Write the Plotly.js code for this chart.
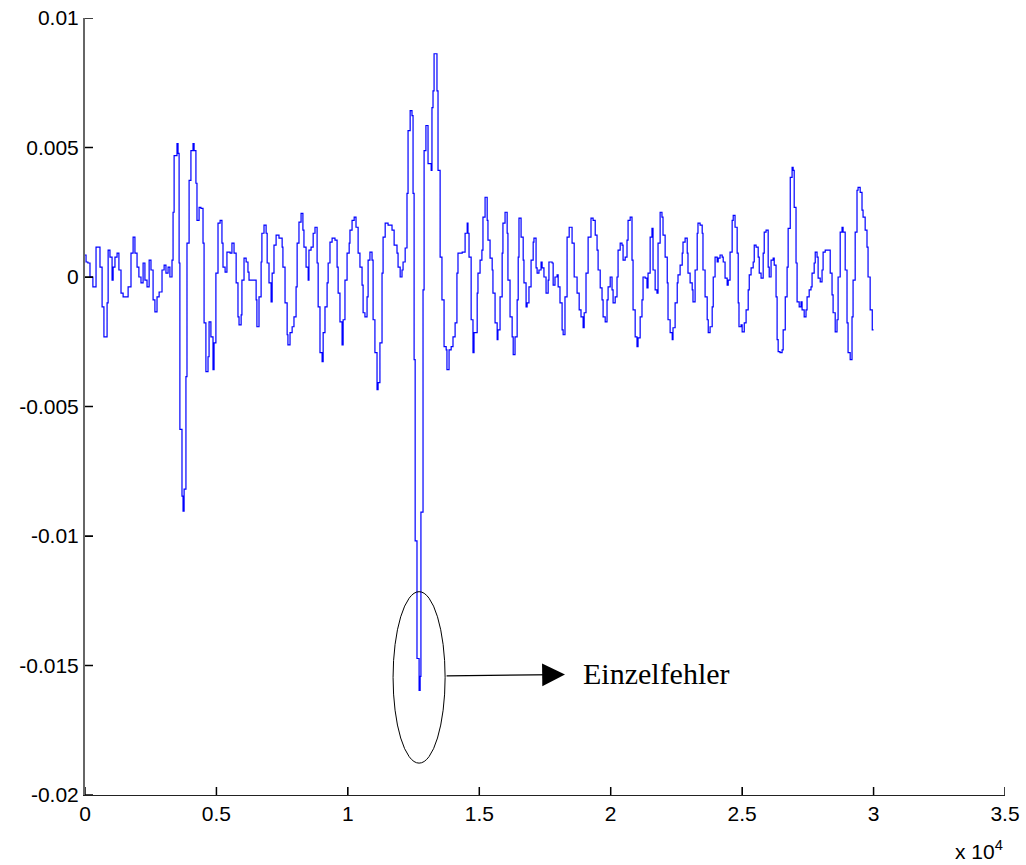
<!DOCTYPE html>
<html>
<head>
<meta charset="utf-8">
<script src="https://cdn.plot.ly/plotly-3.0.1.min.js"></script>
<style>html,body{margin:0;padding:0;background:#fff;}#plot{width:1026px;height:865px;}</style>
</head>
<body>
<div id="plot"></div>
<script>
// sample index (x) and signal value (y)
const sampleX = [0,40,110,190,300,420,570,650,720,840,880,950,1030,1070,1140,1220,1290,1370,1450,1640,1750,1830,1900,1980,2050,2130,2210,2280,2360,2440,2510,2590,2660,2740,2820,2930,3010,3080,3160,3230,3310,3350,3390,3500,3540,3580,3610,3690,3730,3770,3840,3880,3960,4030,4110,4150,4220,4260,4340,4410,4490,4530,4600,4680,4720,4790,4870,4910,4980,5060,5140,5210,5250,5330,5400,5520,5590,5670,5750,5820,5860,5940,5970,6050,6130,6200,6240,6510,6540,6620,6700,6730,6810,6890,6930,7000,7080,7120,7190,7270,7380,7500,7530,7610,7690,7720,7800,7880,7950,8030,8070,8140,8220,8290,8330,8410,8490,8520,8600,8680,8750,8830,8870,8940,9020,9060,9130,9210,9250,9320,9400,9510,9590,9630,9700,9780,9820,9890,9970,10050,10080,10160,10240,10310,10390,10460,10540,10580,10650,10730,10770,10840,10920,10960,11030,11110,11150,11220,11300,11340,11420,11530,11680,11760,11870,11910,11990,12060,12100,12180,12250,12290,12370,12440,12480,12520,12560,12630,12710,12750,12780,12860,12900,12970,13050,13170,13200,13240,13280,13390,13430,13510,13580,13660,13740,13770,13850,13930,14000,14080,14150,14190,14350,14460,14540,14570,14610,14690,14760,14800,14920,14950,15030,15100,15140,15220,15300,15330,15410,15490,15520,15600,15680,15710,15790,15870,15900,15980,16060,16090,16170,16250,16290,16360,16440,16480,16510,16590,16670,16700,16780,16820,16890,16970,17050,17080,17160,17200,17270,17350,17390,17460,17540,17620,17650,17770,17810,17880,17960,18000,18070,18150,18190,18260,18340,18420,18530,18610,18720,18800,18870,18950,18990,19060,19140,19250,19330,19410,19480,19520,19600,19670,19710,19790,19860,19900,19980,20050,20090,20170,20240,20280,20360,20430,20470,20550,20620,20660,20740,20810,20850,20930,21000,21040,21120,21190,21230,21310,21380,21420,21500,21570,21610,21690,21760,21800,21880,21950,21990,22070,22150,22180,22260,22340,22370,22450,22530,22560,22640,22720,22750,22830,22910,22940,23020,23100,23130,23210,23290,23320,23400,23480,23510,23590,23670,23710,23780,23860,23900,23970,24050,24090,24160,24240,24280,24350,24430,24470,24540,24620,24660,24730,24810,24850,24880,24960,25000,25080,25150,25230,25270,25340,25420,25460,25530,25610,25650,25720,25800,25840,25910,25990,26030,26100,26180,26220,26290,26330,26370,26440,26520,26560,26640,26710,26750,26830,26900,26940,26980,27050,27090,27170,27240,27280,27360,27430,27470,27550,27620,27660,27740,27780,27850,27890,27970,28040,28080,28160,28350,28420,28460,28540,28610,28650,28730,28800,28840,28920,28990,29030,29110,29180,29220,29300,29370,29410,29490,29560,29600,29680,29750,29790,29870,29950,30000];
const signal = [0.00085,0.00058,0.00054,0,-0.00038,0.00115,0.00038,-0.00115,-0.00231,-0.001,0.00104,0.00077,-0.00012,0.00038,0.00077,0.00092,0.00027,-0.00062,-0.00077,-0.00038,0.00092,0.00154,0.00092,0.00038,0,-0.00023,0.00054,-0.00012,-0.00038,0.00065,0.00027,-0.00088,-0.00135,-0.00077,-0.00058,0.00027,0.00046,0.00015,0.00038,0,0.00065,0.0025,0.00469,0.00515,0.00477,0.00054,-0.00588,-0.00846,-0.00904,-0.00819,-0.00385,0.00131,0.00373,0.00488,0.00515,0.00488,0.00362,0.00219,0.00269,0.00265,0.00131,-0.00177,-0.00365,-0.00308,-0.00173,-0.00231,-0.00358,-0.00254,0.00015,0.00208,0.00219,0.00131,0.00038,0.00019,0.00096,0.00092,0.00131,0.00092,-0.00023,-0.00154,-0.00185,-0.00146,-0.00012,0.00073,0.00058,0.00019,-0.00012,-0.00088,-0.00192,-0.00077,0.00058,0.00169,0.002,0.00169,0.00054,-0.00023,-0.00096,0.00015,0.00123,0.00162,0.0015,0.00115,0.00038,-0.001,-0.00223,-0.00262,-0.00215,-0.00192,-0.00154,-0.00038,0.00131,0.00212,0.00246,0.00181,0.00115,0.00038,-0.00012,0.00104,0.00115,0.00169,0.00192,0.00054,-0.00115,-0.00292,-0.00327,-0.00215,-0.00115,-0.00023,0.00054,0.00135,0.0015,0.00142,0.00038,-0.00062,-0.00173,-0.00262,-0.00165,-0.00012,0.00092,0.00131,0.00181,0.00219,0.00231,0.00192,0.00092,0.00038,-0.00031,-0.00138,-0.00154,-0.00077,0.00065,0.00096,0.00065,-0.00165,-0.00292,-0.00435,-0.00408,-0.00254,0.00015,0.00154,0.00208,0.002,0.00181,0.00123,0.00092,0.00038,0,0.00027,0.00058,0.00112,0.00323,0.00565,0.00642,0.00623,0.00323,-0.00319,-0.01019,-0.01473,-0.01596,-0.01542,-0.00908,-0.0005,0.00488,0.00585,0.00438,0.00412,0.00654,0.00719,0.00862,0.00719,0.00412,0.00077,-0.00088,-0.00269,-0.00281,-0.00358,-0.00281,-0.00269,-0.00231,-0.00177,0.00015,0.00092,0.00096,0.00169,0.00208,0.00169,0.00077,-0.00165,-0.00292,-0.00215,-0.00062,0.00015,0.00065,0.00104,0.00231,0.00308,0.00219,0.00142,0.00073,0.00027,-0.00062,-0.00177,-0.00242,-0.00204,-0.00077,0.00092,0.00208,0.0025,0.00169,-0.00012,-0.00154,-0.00231,-0.003,-0.00231,-0.00088,0.00077,0.00227,0.00154,0.00065,-0.00023,-0.00115,-0.001,-0.00038,0.00065,0.00135,0.0015,0.00035,0.00015,0.00027,0.00058,0.00035,0,-0.00062,-0.00012,0.00058,0.00054,-0.00031,0,0.00008,-0.00038,-0.001,-0.00204,-0.00223,-0.00077,0.00154,0.00192,0.00131,0,-0.00062,-0.00127,-0.00154,-0.00196,-0.00138,0.00015,0.00154,0.00227,0.00219,0.00162,0.00104,0.00027,-0.00042,-0.00088,-0.00154,-0.00173,-0.00088,-0.00038,0,-0.0005,-0.001,-0.00077,0,0.00104,0.00131,0.00123,0.00065,0.00077,0.00142,0.00219,0.00231,0.00065,-0.00127,-0.00231,-0.00269,-0.00235,-0.00154,-0.00088,0,-0.00004,-0.00042,0.00015,0.00154,0.00188,0.00027,-0.0005,-0.00062,0.00131,0.0025,0.00231,0.00162,0.00077,-0.00023,-0.00165,-0.00215,-0.00242,-0.00196,-0.001,-0.00023,0.00008,0.00046,0.00092,0.00135,0.0015,0.00092,0.00015,-0.00023,-0.0005,-0.00096,0.00027,0.00169,0.00208,0.002,0.00169,0.00027,-0.00077,-0.00165,-0.00215,-0.00192,-0.00115,0,0.00077,0.00058,0.00073,0.00085,0.00077,0.00058,-0.00004,-0.00031,-0.00012,0.00096,0.00219,0.00238,0.00192,0.00092,-0.001,-0.00192,-0.00185,-0.00212,-0.00177,-0.00127,-0.0005,0.00008,0.00035,0.00058,0.00123,0.00115,0.00077,0.00015,-0.00004,0.00092,0.00173,0.00181,0.00038,0,0.00065,0.00073,0.00046,-0.00077,-0.00242,-0.00288,-0.00292,-0.00281,-0.00204,-0.00077,0.00038,0.00188,0.00385,0.00423,0.00412,0.00269,0.00054,-0.00096,-0.00115,-0.00096,-0.00127,-0.00154,-0.00127,-0.00077,-0.0005,-0.00038,0.00015,0.00054,0.00096,0.00077,-0.00004,-0.00019,0.00027,0.00096,0.00104,0.00015,-0.00069,-0.00138,-0.00212,-0.00165,0,0.00173,0.00192,0.00173,0.00027,-0.00177,-0.00292,-0.00319,-0.00154,-0.00012,0.00173,0.00335,0.00346,0.00327,0.00258,0.00231,0.00181,0.00115,0,-0.00127,-0.00204,-0.00204];

const xTickVals = [0, 5000, 10000, 15000, 20000, 25000, 30000, 35000];
const xTickText = ['0', '0.5', '1', '1.5', '2', '2.5', '3', '3.5'];
const yTickVals = [-0.02, -0.015, -0.01, -0.005, 0, 0.005, 0.01];
const yTickText = ['-0.02', '-0.015', '-0.01', '-0.005', '0', '0.005', '0.01'];
const exponentLabel = 'x 10<sup>4</sup>';
const faultLabel = 'Einzelfehler';
// marked fault region (ellipse) and arrow, in data units
const faultBox = {x0: 11720, x1: 13700, y0: -0.01877, y1: -0.01215};
const arrowTail = {x: 13700, y: -0.0154};
const arrowHead = {x: 18260, y: -0.01535};
const labelPos = {x: 18880, y: -0.0153};

const X_RANGE = [0, 35000];
const Y_RANGE = [-0.02, 0.01];
const PLOT_W = 920, PLOT_H = 777;   // plot area size in px (from the margins)
const TICK_PX = 8;                  // inward tick length in px
const xTickLen = TICK_PX * (X_RANGE[1] - X_RANGE[0]) / PLOT_W;
const yTickLen = TICK_PX * (Y_RANGE[1] - Y_RANGE[0]) / PLOT_H;

const trace = {
  x: sampleX, y: signal, type: 'scatter', mode: 'lines',
  line: {color: '#0000ff', width: 1.2, shape: 'hv'},
  hoverinfo: 'skip'
};

// inward tick marks at the tick values, drawn through the axis scales
const tickX = [], tickY = [];
xTickVals.forEach(v => { tickX.push(v, v, null); tickY.push(Y_RANGE[0], Y_RANGE[0] + yTickLen, null); });
yTickVals.forEach(v => { tickX.push(X_RANGE[0], X_RANGE[0] + xTickLen, null); tickY.push(v, v, null); });
const tickTrace = {
  x: tickX, y: tickY, type: 'scatter', mode: 'lines',
  line: {color: '#000', width: 1.5}, connectgaps: false, hoverinfo: 'skip'
};

const tickFont = {family: 'Liberation Sans, Arial, sans-serif', size: 21, color: '#000'};

const layout = {
  width: 1026, height: 865,
  margin: {l: 85, r: 21, t: 18, b: 70, pad: 0},
  paper_bgcolor: '#fff', plot_bgcolor: '#fff',
  showlegend: false,
  xaxis: {
    range: X_RANGE, tickmode: 'array', tickvals: xTickVals, ticktext: xTickText,
    showgrid: false, zeroline: false, showline: true, linecolor: '#222', linewidth: 1,
    ticks: 'inside', ticklen: TICK_PX, tickcolor: '#000', tickfont: tickFont
  },
  yaxis: {
    range: Y_RANGE, tickmode: 'array', tickvals: yTickVals, ticktext: yTickText,
    showgrid: false, zeroline: false, showline: true, linecolor: '#666', linewidth: 2,
    ticks: 'inside', ticklen: TICK_PX, tickcolor: '#000', tickfont: tickFont
  },
  shapes: [{
    type: 'circle', xref: 'x', yref: 'y',
    x0: faultBox.x0, x1: faultBox.x1, y0: faultBox.y0, y1: faultBox.y1,
    line: {color: '#000', width: 1}
  }],
  annotations: [
    {
      x: arrowHead.x, y: arrowHead.y, ax: arrowTail.x, ay: arrowTail.y,
      xref: 'x', yref: 'y', axref: 'x', ayref: 'y',
      text: '', showarrow: true, arrowhead: 2, arrowsize: 3.8, arrowwidth: 1.2, arrowcolor: '#000'
    },
    {
      x: labelPos.x, y: labelPos.y, xref: 'x', yref: 'y', xanchor: 'left', yanchor: 'middle',
      text: faultLabel, showarrow: false,
      font: {family: 'Liberation Serif, Times New Roman, serif', size: 30, color: '#000'}
    },
    {
      x: 1.0, y: -0.071, xref: 'paper', yref: 'paper', xanchor: 'right', yanchor: 'middle',
      text: exponentLabel, showarrow: false, font: tickFont
    }
  ]
};

Plotly.newPlot('plot', [trace, tickTrace], layout, {staticPlot: true, displayModeBar: false});
</script>
</body>
</html>
